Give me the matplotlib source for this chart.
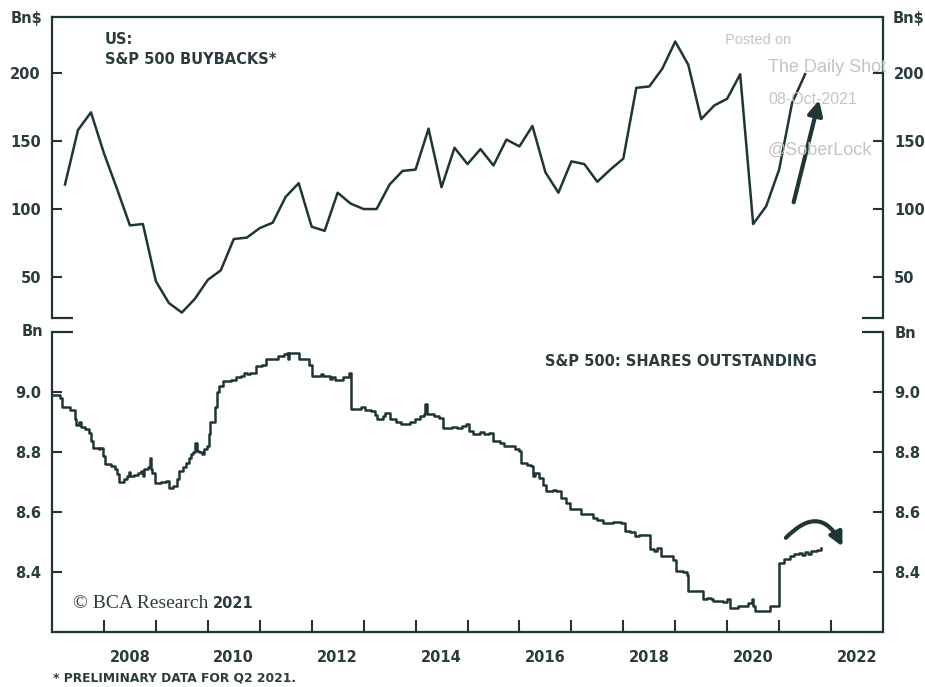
import matplotlib
matplotlib.use('Agg')
import matplotlib.pyplot as plt
import pandas as pd

# S&P 500 buybacks, quarterly, Bn$
bb_quarters = ['2007Q1', '2021Q2']
bb_values = [118, 158, 171, 141,
             115, 88, 89, 47,
             31, 24, 34, 48,
             55, 78, 79, 86,
             90, 109, 119, 87,
             84, 112, 104, 100,
             100, 118, 128, 129,
             159, 116, 145, 133,
             144, 132, 151, 146,
             161, 127, 112, 135,
             133, 120, 129, 137,
             189, 190, 203, 223,
             206, 166, 176, 181,
             199, 89, 102, 129,
             178, 199]

# S&P 500 shares outstanding, Bn (decimal year, value, drawn as steps)
sh_dates = [2007.00, 2007.15, 2007.20, 2007.35, 2007.44, 2007.47, 2007.52, 2007.55, 2007.63, 2007.72,
            2007.76, 2007.79, 2007.90, 2007.93, 2007.98, 2008.02, 2008.13, 2008.22, 2008.26, 2008.29,
            2008.38, 2008.45, 2008.49, 2008.51, 2008.58, 2008.65, 2008.72, 2008.75, 2008.78, 2008.84,
            2008.88, 2008.90, 2008.93, 2008.98, 2009.10, 2009.19, 2009.25, 2009.33, 2009.40, 2009.44,
            2009.52, 2009.58, 2009.63, 2009.68, 2009.72, 2009.76, 2009.79, 2009.83, 2009.88, 2009.93,
            2009.98, 2010.02, 2010.05, 2010.12, 2010.14, 2010.17, 2010.22, 2010.30, 2010.45, 2010.55,
            2010.63, 2010.70, 2010.75, 2010.82, 2010.92, 2011.05, 2011.12, 2011.22, 2011.35, 2011.47,
            2011.52, 2011.54, 2011.56, 2011.72, 2011.75, 2011.90, 2011.95, 2012.00, 2012.15, 2012.18,
            2012.22, 2012.35, 2012.40, 2012.45, 2012.60, 2012.72, 2012.75, 2012.90, 2012.95, 2013.02,
            2013.14, 2013.22, 2013.26, 2013.38, 2013.42, 2013.50, 2013.62, 2013.72, 2013.78, 2013.90,
            2013.98, 2014.08, 2014.17, 2014.19, 2014.22, 2014.35, 2014.45, 2014.52, 2014.70, 2014.80,
            2014.90, 2014.97, 2015.02, 2015.10, 2015.25, 2015.32, 2015.42, 2015.50, 2015.62, 2015.71,
            2015.85, 2015.92, 2016.00, 2016.03, 2016.15, 2016.22, 2016.26, 2016.30, 2016.38, 2016.45,
            2016.51, 2016.65, 2016.71, 2016.80, 2016.90, 2016.98, 2017.10, 2017.19, 2017.30, 2017.41,
            2017.50, 2017.61, 2017.80, 2017.96, 2018.03, 2018.12, 2018.22, 2018.31, 2018.40, 2018.51,
            2018.60, 2018.65, 2018.73, 2018.85, 2018.95, 2019.02, 2019.15, 2019.22, 2019.25, 2019.45,
            2019.54, 2019.62, 2019.68, 2019.73, 2019.85, 2019.92, 2020.00, 2020.05, 2020.21, 2020.34,
            2020.40, 2020.47, 2020.50, 2020.53, 2020.79, 2020.82, 2020.99, 2021.10, 2021.20, 2021.28,
            2021.38, 2021.45, 2021.50, 2021.55, 2021.62, 2021.72, 2021.80]
sh_values = [8.990, 8.980, 8.950, 8.940, 8.910, 8.890, 8.900, 8.885, 8.877, 8.864,
             8.837, 8.814, 8.810, 8.815, 8.787, 8.761, 8.753, 8.745, 8.726, 8.701,
             8.709, 8.720, 8.735, 8.720, 8.725, 8.730, 8.737, 8.720, 8.745, 8.750,
             8.780, 8.745, 8.730, 8.698, 8.700, 8.705, 8.680, 8.687, 8.710, 8.738,
             8.750, 8.765, 8.781, 8.795, 8.800, 8.830, 8.805, 8.800, 8.792, 8.810,
             8.820, 8.860, 8.900, 8.900, 8.950, 9.000, 9.020, 9.037, 9.040, 9.050,
             9.055, 9.062, 9.059, 9.064, 9.087, 9.090, 9.110, 9.109, 9.120, 9.126,
             9.130, 9.110, 9.130, 9.131, 9.109, 9.110, 9.090, 9.053, 9.053, 9.060,
             9.053, 9.045, 9.050, 9.040, 9.050, 9.065, 8.942, 8.942, 8.950, 8.940,
             8.937, 8.925, 8.909, 8.920, 8.931, 8.909, 8.900, 8.895, 8.892, 8.900,
             8.909, 8.920, 8.926, 8.959, 8.926, 8.920, 8.915, 8.881, 8.885, 8.880,
             8.887, 8.895, 8.870, 8.859, 8.868, 8.860, 8.864, 8.837, 8.830, 8.820,
             8.820, 8.810, 8.803, 8.764, 8.758, 8.753, 8.720, 8.730, 8.714, 8.690,
             8.670, 8.675, 8.670, 8.648, 8.630, 8.609, 8.610, 8.592, 8.595, 8.581,
             8.575, 8.564, 8.566, 8.564, 8.537, 8.535, 8.520, 8.523, 8.525, 8.476,
             8.470, 8.480, 8.453, 8.455, 8.440, 8.403, 8.400, 8.390, 8.337, 8.337,
             8.309, 8.315, 8.310, 8.303, 8.305, 8.300, 8.310, 8.281, 8.287, 8.287,
             8.298, 8.309, 8.287, 8.270, 8.270, 8.287, 8.430, 8.445, 8.455, 8.460,
             8.465, 8.458, 8.466, 8.460, 8.470, 8.475, 8.480]

top_ticks = [50, 100, 150, 200]
bot_ticks = [8.4, 8.6, 8.8, 9.0]
label_years = [2008, 2010, 2012, 2014, 2016, 2018, 2020, 2022]

INK = '#1f3536'
TXT = '#2b3c3d'
WM = '#c4c4c4'
W, H = 925, 687

plt.rcParams['font.family'] = ['DejaVu Sans']

bb_x = [p.end_time.year + p.quarter / 4.0
        for p in pd.period_range(bb_quarters[0], bb_quarters[1], freq='Q')]

fig = plt.figure(figsize=(9.25, 6.87), dpi=100)
ax1 = fig.add_axes([52 / W, 1 - 318 / H, 831 / W, 301 / H])
ax2 = fig.add_axes([52 / W, 1 - 632 / H, 831 / W, 300 / H])


def style(ax, ylim, ticks, fmt, hide):
    ax.set_xlim(2007, 2023)
    ax.set_ylim(*ylim)
    for s in ax.spines.values():
        s.set_color(INK)
        s.set_linewidth(1.6)
    ax.spines[hide].set_visible(False)
    ax.set_yticks(ticks)
    ax.set_yticklabels([fmt.format(t) for t in ticks])
    ax.tick_params(axis='y', direction='in', length=7, width=1.5, color=INK,
                   labelcolor=TXT, labelsize=10.5, pad=8, left=True, right=True,
                   labelleft=True, labelright=True)
    for lab in ax.get_yticklabels():
        lab.set_fontweight('bold')
    # short stubs where the panels meet
    yv = 0 if hide == 'bottom' else 1
    for x0, x1 in [(0, 0.025), (0.975, 1)]:
        ax.plot([x0, x1], [yv, yv], transform=ax.transAxes, color=INK,
                lw=1.6, clip_on=False, solid_capstyle='butt')


style(ax1, (20, 241), top_ticks, '{:d}', 'bottom')
style(ax2, (8.2, 9.2), bot_ticks, '{:.1f}', 'top')

ax1.set_xticks([])
ax2.set_xticks(range(2008, 2023))
ax2.set_xticklabels([])
ax2.tick_params(axis='x', which='major', direction='in', length=9, width=1.5, color=INK)
ax2.set_xticks([y + 0.5 for y in label_years], minor=True)
ax2.set_xticklabels([str(y) for y in label_years], minor=True)
ax2.tick_params(axis='x', which='minor', length=0, pad=13, labelsize=10.5, labelcolor=TXT)
for lab in ax2.get_xticklabels(minor=True):
    lab.set_fontweight('bold')

ax1.plot(bb_x, bb_values, color=INK, lw=1.8)
ax2.plot(sh_dates, sh_values, color=INK, lw=1.8, drawstyle='steps-post')

# arrows
ax1.annotate('', xy=(2021.77, 180), xytext=(2021.28, 105),
             arrowprops=dict(arrowstyle='-|>', color=INK, lw=3, mutation_scale=22,
                             shrinkA=0, shrinkB=0))
ax2.annotate('', xy=(2022.22, 8.485), xytext=(2021.13, 8.514),
             arrowprops=dict(arrowstyle='-|>', color=INK, lw=3, mutation_scale=20,
                             shrinkA=0, shrinkB=0, connectionstyle='arc3,rad=-0.7'))

# axis unit labels
kw = dict(color=TXT, fontsize=10.5, fontweight='bold', va='center', ha='center')
fig.text(27 / W, 1 - 19 / H, 'Bn$', **kw)
fig.text(908 / W, 1 - 19 / H, 'Bn$', **kw)
fig.text(32 / W, 1 - 332 / H, 'Bn', **kw)
fig.text(905 / W, 1 - 333 / H, 'Bn', **kw)

# titles
kw = dict(color=TXT, fontsize=10.5, fontweight='bold', va='center', ha='left')
fig.text(105 / W, 1 - 40 / H, 'US:', **kw)
fig.text(105 / W, 1 - 60 / H, 'S&P 500 BUYBACKS*', **kw)
fig.text(545 / W, 1 - 362 / H, 'S&P 500: SHARES OUTSTANDING', **kw)

fig.text(73 / W, 1 - 603 / H, '\u00a9 BCA Research', color=TXT, fontsize=14,
         family=['Liberation Serif', 'DejaVu Serif'], va='center', ha='left')
fig.text(213 / W, 1 - 603 / H, '2021', color=TXT, fontsize=10.5, fontweight='bold',
         va='center', ha='left')
fig.text(53 / W, 1 - 678 / H, '* PRELIMINARY DATA FOR Q2 2021.', color=TXT, fontsize=8.8,
         fontweight='bold', va='center', ha='left')

# watermark
wm = dict(color=WM, va='center', ha='left', family=['Liberation Sans', 'DejaVu Sans'])
fig.text(725 / W, 1 - 40 / H, 'Posted on', fontsize=10.5, **wm)
fig.text(768 / W, 1 - 67 / H, 'The Daily Shot', fontsize=13, **wm)
fig.text(768 / W, 1 - 99 / H, '08-Oct-2021', fontsize=11.5, **wm)
fig.text(768 / W, 1 - 150 / H, '@SoberLock', fontsize=13, **wm)

fig.savefig('out.png', dpi=100)
